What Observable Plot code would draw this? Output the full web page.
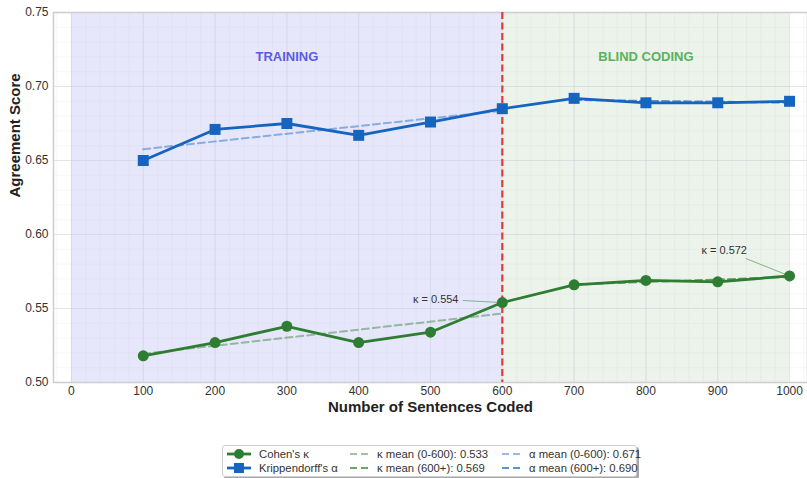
<!DOCTYPE html>
<html>
<head>
<meta charset="utf-8">
<script src="https://cdn.jsdelivr.net/npm/d3@7"></script>
<script src="https://cdn.jsdelivr.net/npm/@observablehq/plot@0.6"></script>
<style>
  html, body { margin: 0; padding: 0; background: #fff; }
  body { width: 807px; height: 478px; overflow: hidden; font-family: "Liberation Sans", Arial, sans-serif; }
  #wrap { position: relative; width: 807px; height: 478px; }
  #legend {
    position: absolute; left: 222px; top: 445px; width: 413px; height: 30px;
    background: #fff; border: 1px solid #cfcfcf; border-radius: 3px;
    box-shadow: 2px 2px 0 #a8a8a8; font-size: 11.3px; color: #333;
  }
  .li { position: absolute; display: flex; align-items: center; height: 14px; white-space: nowrap; }
  .li svg { margin-right: 7px; }
</style>
</head>
<body>
<div id="wrap">
  <div id="chart"></div>
  <div id="legend"></div>
</div>
<script>
// ---- data ----
const sentences = [100, 200, 300, 400, 500, 600, 700, 800, 900, 1000];
const cohenKappa = [0.518, 0.527, 0.538, 0.527, 0.534, 0.554, 0.566, 0.569, 0.568, 0.572];
const krippAlpha = [0.650, 0.671, 0.675, 0.667, 0.676, 0.685, 0.692, 0.689, 0.689, 0.690];
const phaseLabels = ["TRAINING", "BLIND CODING"];
const phaseStart = [0, 600];
const phaseEnd = [600, 1000];
const phaseLabelX = [300, 800];
const xTicks = [0, 100, 200, 300, 400, 500, 600, 700, 800, 900, 1000];
const yTicks = [0.50, 0.55, 0.60, 0.65, 0.70, 0.75];
const splitAt = 600;
const annotations = [
  {label: "κ = 0.554", x: 600, y: 0.554, tx: 545, ty: 0.5554, lx: 539, ly: 0.5561, anchor: "end"},
  {label: "κ = 0.572", x: 1000, y: 0.572, tx: 939, ty: 0.5838, lx: 909, ly: 0.5892, anchor: "middle"}
];
const legendLabels = {
  kappa: "Cohen's κ",
  alpha: "Krippendorff's α",
  kTrain: "κ mean (0-600): 0.533",
  kBlind: "κ mean (600+): 0.569",
  aTrain: "α mean (0-600): 0.671",
  aBlind: "α mean (600+): 0.690"
};

// ---- derived tables ----
const kappaRows = sentences.map((s, i) => ({x: s, y: cohenKappa[i]}));
const alphaRows = sentences.map((s, i) => ({x: s, y: krippAlpha[i]}));
const phases = phaseLabels.map((l, i) => ({label: l, x1: phaseStart[i], x2: phaseEnd[i], lx: phaseLabelX[i]}));
const train = rows => rows.filter(d => d.x <= splitAt);
const blind = rows => rows.filter(d => d.x > splitAt);

const GREEN = "#2e7d32", BLUE = "#1565c0", RED = "#e53935";
const minorX = d3.range(-20, 1025, 20);
const minorY = d3.range(50, 76, 1).map(v => v / 100);

const chart = Plot.plot({
  width: 807,
  height: 436,
  marginLeft: 53,
  marginRight: 0,
  marginTop: 12,
  marginBottom: 54,
  style: {fontFamily: "'Liberation Sans', Arial, sans-serif", fontSize: "12px", color: "#333", background: "#fff"},
  x: {domain: [-25, 1025], ticks: xTicks, label: null},
  y: {domain: [0.50, 0.75], ticks: yTicks, label: null, tickFormat: ".2f"},
  marks: [
    Plot.rect(phases, {x1: "x1", x2: "x2", fill: (d, i) => i === 0 ? "#e7e7fb" : "#ebf3ea"}),
    Plot.ruleX(minorX, {stroke: "#c8c8d8", strokeOpacity: 0.25, strokeWidth: 0.6}),
    Plot.ruleY(minorY, {stroke: "#c8c8d8", strokeOpacity: 0.25, strokeWidth: 0.6}),
    Plot.ruleX(xTicks, {stroke: "#c8c8d8", strokeOpacity: 0.45, strokeWidth: 0.9}),
    Plot.ruleY(yTicks, {stroke: "#c8c8d8", strokeOpacity: 0.45, strokeWidth: 0.9}),
    Plot.frame({stroke: "#cfcfcf", strokeWidth: 1.6}),
    Plot.axisX({ticks: xTicks, tickSize: 0, tickPadding: 4, fontSize: 12, tickFormat: "d", label: null}),
    Plot.axisY({ticks: yTicks, tickSize: 0, tickPadding: 5, fontSize: 12, tickFormat: ".2f", label: null}),
    Plot.text(phases, {x: "lx", y: () => 0.7203, text: "label", fontWeight: "bold", fontSize: 13,
      fill: (d, i) => i === 0 ? "#5b5be3" : "#59b25b"}),
    Plot.ruleX([splitAt], {stroke: RED, strokeWidth: 2.2, strokeDasharray: "7,3.5"}),
    Plot.linearRegressionY(train(kappaRows), {x: "x", y: "y", ci: 0, stroke: GREEN, strokeOpacity: 0.45, strokeWidth: 2, strokeDasharray: "7,4"}),
    Plot.linearRegressionY(blind(kappaRows), {x: "x", y: "y", ci: 0, stroke: GREEN, strokeOpacity: 0.7, strokeWidth: 2, strokeDasharray: "7,4"}),
    Plot.linearRegressionY(train(alphaRows), {x: "x", y: "y", ci: 0, stroke: BLUE, strokeOpacity: 0.45, strokeWidth: 2, strokeDasharray: "7,4"}),
    Plot.linearRegressionY(blind(alphaRows), {x: "x", y: "y", ci: 0, stroke: BLUE, strokeOpacity: 0.7, strokeWidth: 2, strokeDasharray: "7,4"}),
    Plot.line(kappaRows, {x: "x", y: "y", stroke: GREEN, strokeWidth: 2.8}),
    Plot.line(alphaRows, {x: "x", y: "y", stroke: BLUE, strokeWidth: 2.8}),
    Plot.dot(kappaRows, {x: "x", y: "y", r: 5.5, fill: GREEN, symbol: "circle"}),
    Plot.dot(alphaRows, {x: "x", y: "y", r: 6.2, fill: BLUE, symbol: "square"}),
    Plot.link(annotations, {x1: "tx", y1: "ty", x2: "x", y2: "y", stroke: GREEN, strokeOpacity: 0.6, strokeWidth: 0.9}),
    Plot.text(annotations, {x: "lx", y: "ly", text: "label", textAnchor: "end", fontSize: 11, fill: "#333",
      filter: d => d.anchor === "end"}),
    Plot.text(annotations, {x: "lx", y: "ly", text: "label", textAnchor: "middle", fontSize: 11, fill: "#333",
      filter: d => d.anchor === "middle"}),
    Plot.text(["Number of Sentences Coded"], {frameAnchor: "bottom", dy: 29, text: d => d, fontWeight: "bold", fontSize: 15, fill: "#222"}),
    Plot.text(["Agreement Score"], {frameAnchor: "left", dx: -38, rotate: -90, text: d => d, fontWeight: "bold", fontSize: 15, fill: "#222"})
  ]
});
document.getElementById("chart").appendChild(chart);

// ---- legend ----
function sw(kind, color, opacity) {
  if (kind === "kappa") return `<svg width="26" height="12"><line x1="1" y1="6" x2="25" y2="6" stroke="${color}" stroke-width="2.8"/><circle cx="13" cy="6" r="5" fill="${color}"/></svg>`;
  if (kind === "alpha") return `<svg width="26" height="12"><line x1="1" y1="6" x2="25" y2="6" stroke="${color}" stroke-width="2.8"/><rect x="8" y="1" width="10" height="10" fill="${color}"/></svg>`;
  return `<svg width="20" height="12"><line x1="0" y1="6" x2="20" y2="6" stroke="${color}" stroke-opacity="${opacity}" stroke-width="2" stroke-dasharray="7,4"/></svg>`;
}
const items = [
  {html: sw("kappa", GREEN), text: legendLabels.kappa, left: 3, top: 0},
  {html: sw("alpha", BLUE), text: legendLabels.alpha, left: 3, top: 14},
  {html: sw("d", GREEN, 0.45), text: legendLabels.kTrain, left: 127, top: 0},
  {html: sw("d", GREEN, 0.7), text: legendLabels.kBlind, left: 127, top: 14},
  {html: sw("d", BLUE, 0.45), text: legendLabels.aTrain, left: 279, top: 0},
  {html: sw("d", BLUE, 0.7), text: legendLabels.aBlind, left: 279, top: 14}
];
document.getElementById("legend").innerHTML = items.map(it =>
  `<div class="li" style="left:${it.left}px;top:${it.top + 1}px">${it.html}<span>${it.text}</span></div>`).join("");
</script>
</body>
</html>
